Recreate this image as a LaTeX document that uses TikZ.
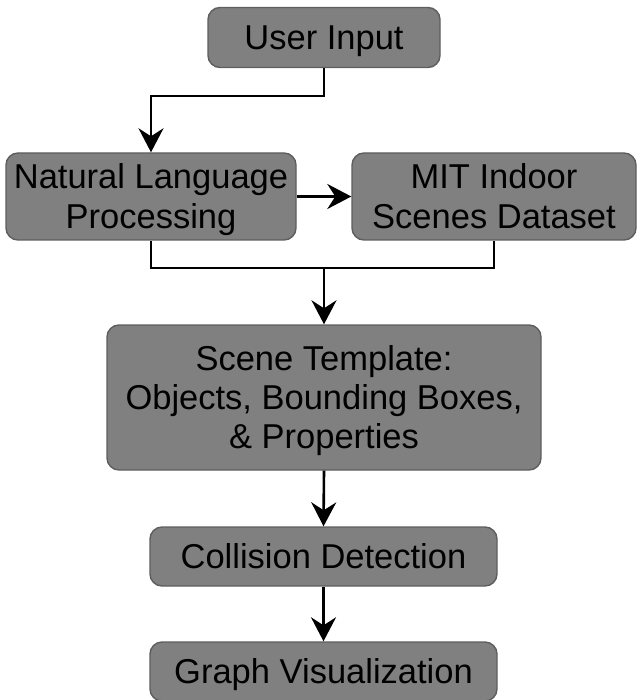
\documentclass[tikz,border=0pt]{standalone}
\usepackage{fontspec}
\setmainfont{Liberation Sans}
\usetikzlibrary{arrows.meta}
\definecolor{boxfill}{HTML}{808080}
\definecolor{boxline}{HTML}{5E5E5E}
\newcommand{\dstrut}{\rule{0pt}{32pt}}
\tikzset{
  flowbox/.style={draw=boxline, line width=1.4pt, fill=boxfill, rounded corners=12pt,
    inner sep=0pt, align=center, font=\fontsize{34.5}{40}\selectfont, text=black},
  conn/.style={draw=black, line width=2.6pt},
  arr/.style={conn, -{Stealth[length=24pt, width=25pt, inset=8pt]}}
}
\begin{document}
\begin{tikzpicture}[x=1pt, y=-1pt]
\useasboundingbox (0,0) rectangle (637,700);
\node[flowbox, minimum width=232pt, minimum height=60pt] (ui) at (324,37.5) {\dstrut User Input};
\node[flowbox, minimum width=290pt, minimum height=87pt] (nlp) at (151,196.5) {\dstrut Natural Language\\Processing};
\node[flowbox, minimum width=284pt, minimum height=87pt] (mit) at (494,196.5) {MIT Indoor\\Scenes Dataset};
\node[flowbox, minimum width=434pt, minimum height=145pt, font=\fontsize{34.5}{39}\selectfont] (st) at (324,397.5) {\dstrut Scene Template:\\Objects, Bounding Boxes,\\\& Properties};
\node[flowbox, minimum width=347pt, minimum height=59pt] (cd) at (323.5,556.5) {Collision Detection};
\node[flowbox, minimum width=347pt, minimum height=59pt] (gv) at (323.5,671.5) {\dstrut Graph Visualization};
\coordinate (j) at (324,268);
\draw[arr] (ui.south) -- ++(0,28) -| (nlp.north);
\draw[arr] (nlp.east) -- (mit.west);
\draw[conn] (nlp.south) |- (j) -| (mit.south);
\draw[arr] (j) -- (st.north);
\draw[arr] (st.south) -- (cd.north);
\draw[arr] (cd.south) -- (gv.north);
\end{tikzpicture}
\end{document}
